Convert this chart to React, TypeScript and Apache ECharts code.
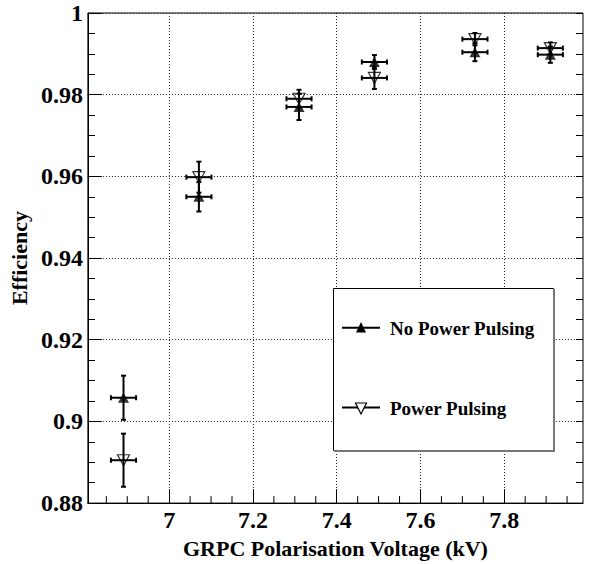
import React, { useEffect, useRef } from "react";
import * as echarts from "echarts";

// ---- data ----
const voltage = [6.891, 7.071, 7.31, 7.49, 7.73, 7.91];
const voltageErr = [0.03, 0.03, 0.03, 0.03, 0.03, 0.03];
const effNoPP = [0.9058, 0.955, 0.977, 0.988, 0.9904, 0.9898];
const errNoPP = [0.0054, 0.0036, 0.0032, 0.0017, 0.0022, 0.002];
const effPP = [0.8905, 0.9598, 0.979, 0.9841, 0.9936, 0.9914];
const errPP = [0.0065, 0.0038, 0.0022, 0.0027, 0.0015, 0.0014];
const xMajorTicks = [7.0, 7.2, 7.4, 7.6, 7.8];
const xMinorTicks = [
  6.85, 6.9, 6.95, 7.05, 7.1, 7.15, 7.25, 7.3, 7.35, 7.45, 7.5, 7.55, 7.65,
  7.7, 7.75, 7.85, 7.9, 7.95,
];
const legendLabels = ["No Power Pulsing", "Power Pulsing"];
const xTitle = "GRPC Polarisation Voltage (kV)";
const yTitle = "Efficiency";

const X_MIN = 6.806;
const X_MAX = 7.988;
const Y_MIN = 0.88;
const Y_MAX = 1.0;

const FONT = "Liberation Serif";

function errorBarRender(params: any, api: any) {
  const x = api.value(0);
  const y = api.value(1);
  const ey = api.value(2);
  const ex = api.value(3);
  const top = api.coord([x, y + ey]);
  const bot = api.coord([x, y - ey]);
  const l = api.coord([x - ex, y]);
  const r = api.coord([x + ex, y]);
  const cap = 2.5;
  const style = { stroke: "#000", lineWidth: 2 };
  return {
    type: "group",
    children: [
      { type: "line", shape: { x1: top[0], y1: top[1], x2: bot[0], y2: bot[1] }, style },
      { type: "line", shape: { x1: l[0], y1: l[1], x2: r[0], y2: r[1] }, style },
      { type: "line", shape: { x1: top[0] - cap, y1: top[1], x2: top[0] + cap, y2: top[1] }, style },
      { type: "line", shape: { x1: bot[0] - cap, y1: bot[1], x2: bot[0] + cap, y2: bot[1] }, style },
      { type: "line", shape: { x1: l[0], y1: l[1] - cap, x2: l[0], y2: l[1] + cap }, style },
      { type: "line", shape: { x1: r[0], y1: r[1] - cap, x2: r[0], y2: r[1] + cap }, style },
    ],
  };
}

function minorTickRender(params: any, api: any) {
  const p = api.coord([api.value(0), api.value(1)]);
  return {
    type: "line",
    shape: { x1: p[0], y1: p[1], x2: p[0], y2: p[1] - 7 },
    style: { stroke: "#000", lineWidth: 1 },
  };
}

export default function App() {
  const ref = useRef<HTMLDivElement>(null);
  useEffect(() => {
    document.body.style.margin = "0";
    const chart = echarts.init(ref.current!, null, { renderer: "svg" });
    const labelStyle = { color: "#000", fontFamily: FONT, fontWeight: "bold" as const };
    const yAxisCommon = {
      type: "value" as const,
      min: Y_MIN,
      max: Y_MAX,
      interval: 0.02,
    };
    const legendText = (text: string, y: number) => ({
      type: "text",
      x: 390,
      y,
      style: {
        text,
        font: 'bold 19px "Liberation Serif"',
        fill: "#000",
        align: "left",
        verticalAlign: "middle",
      },
      z: 102,
    });
    const option: any = {
      animation: false,
      backgroundColor: "#fff",
      textStyle: { fontFamily: FONT },
      grid: {
        left: 80,
        right: 11,
        top: 13,
        bottom: 51,
        show: true,
        borderColor: "#000",
        borderWidth: 1,
        backgroundColor: "#fff",
      },
      xAxis: {
        type: "value",
        min: X_MIN,
        max: X_MAX,
        axisLine: { show: true, lineStyle: { color: "#000", width: 1 } },
        axisTick: {
          show: true,
          inside: true,
          length: 14,
          customValues: xMajorTicks,
          lineStyle: { color: "#000", width: 1 },
        },
        axisLabel: {
          customValues: xMajorTicks,
          ...labelStyle,
          fontSize: 24,
          margin: 5,
          formatter: (v: number) => String(parseFloat(v.toFixed(1))),
        },
        splitLine: { show: true, lineStyle: { color: "#222", type: [1, 2], width: 1 } },
        name: xTitle,
        nameLocation: "middle",
        nameGap: 26,
        nameTextStyle: { ...labelStyle, fontSize: 22 },
      },
      yAxis: [
        {
          ...yAxisCommon,
          position: "left",
          axisLine: { show: true, lineStyle: { color: "#000", width: 1 } },
          axisTick: { show: true, inside: true, length: 14, lineStyle: { color: "#000" } },
          minorTick: { show: true, splitNumber: 4, length: 7, lineStyle: { color: "#000" } },
          axisLabel: {
            ...labelStyle,
            fontSize: 24,
            margin: 5,
            formatter: (v: number) => String(parseFloat(v.toFixed(2))),
          },
          splitLine: { show: true, lineStyle: { color: "#222", type: [1, 2], width: 1 } },
          name: yTitle,
          nameLocation: "middle",
          nameGap: 41,
          nameTextStyle: { ...labelStyle, fontSize: 22 },
        },
        {
          ...yAxisCommon,
          position: "right",
          axisLine: { show: false },
          axisTick: { show: true, inside: true, length: 7, lineStyle: { color: "#000" } },
          minorTick: { show: true, splitNumber: 4, length: 7, lineStyle: { color: "#000" } },
          axisLabel: { show: false },
          splitLine: { show: false },
        },
      ],
      series: [
        {
          type: "custom",
          name: "xMinorTicks",
          xAxisIndex: 0,
          yAxisIndex: 0,
          renderItem: minorTickRender,
          encode: { x: 0, y: 1 },
          data: xMinorTicks.map((v) => [v, Y_MIN]),
          silent: true,
          z: 3,
        },
        {
          type: "custom",
          name: legendLabels[0] + " err",
          renderItem: errorBarRender,
          encode: { x: 0, y: 1 },
          data: voltage.map((v, i) => [v, effNoPP[i], errNoPP[i], voltageErr[i]]),
          z: 4,
        },
        {
          type: "scatter",
          name: legendLabels[0],
          symbol: "triangle",
          symbolSize: [11, 10],
          itemStyle: { color: "#000" },
          data: voltage.map((v, i) => [v, effNoPP[i]]),
          z: 5,
        },
        {
          type: "custom",
          name: legendLabels[1] + " err",
          renderItem: errorBarRender,
          encode: { x: 0, y: 1 },
          data: voltage.map((v, i) => [v, effPP[i], errPP[i], voltageErr[i]]),
          z: 6,
        },
        {
          type: "scatter",
          name: legendLabels[1],
          symbol: "triangle",
          symbolRotate: 180,
          symbolSize: [12, 11],
          itemStyle: { color: "rgba(0,0,0,0)", borderColor: "#000", borderWidth: 1.2 },
          data: voltage.map((v, i) => [v, effPP[i]]),
          z: 7,
        },
      ],
      graphic: [
        {
          type: "rect",
          shape: { x: 333.5, y: 288.5, width: 220, height: 162 },
          style: { fill: "#fff", stroke: "#000", lineWidth: 1 },
          z: 100,
        },
        {
          type: "line",
          shape: { x1: 554, y1: 289, x2: 554, y2: 451.5 },
          style: { stroke: "#777", lineWidth: 2 },
          z: 101,
        },
        {
          type: "line",
          shape: { x1: 334, y1: 451, x2: 555, y2: 451 },
          style: { stroke: "#777", lineWidth: 2 },
          z: 101,
        },
        {
          type: "line",
          shape: { x1: 342, y1: 327.7, x2: 380, y2: 327.7 },
          style: { stroke: "#000", lineWidth: 2 },
          z: 101,
        },
        {
          type: "polygon",
          shape: { points: [[361, 322], [366, 332.5], [356, 332.5]] },
          style: { fill: "#000" },
          z: 102,
        },
        {
          type: "line",
          shape: { x1: 342, y1: 407.5, x2: 380, y2: 407.5 },
          style: { stroke: "#000", lineWidth: 2 },
          z: 101,
        },
        {
          type: "polygon",
          shape: { points: [[355.5, 403], [366.5, 403], [361, 414]] },
          style: { fill: "#fff", stroke: "#000", lineWidth: 1.2 },
          z: 102,
        },
        legendText(legendLabels[0], 328),
        legendText(legendLabels[1], 408),
      ],
    };
    chart.setOption(option);
    return () => chart.dispose();
  }, []);
  return <div ref={ref} style={{ width: 594, height: 564 }} />;
}
